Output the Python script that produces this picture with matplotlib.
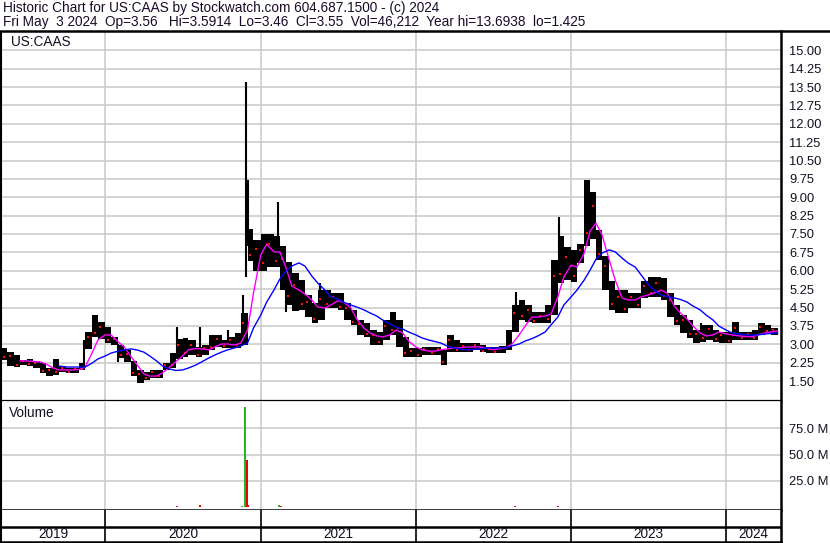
#!/usr/bin/env python
"""
Historic price chart for US:CAAS in the Stockwatch style.
"""

import numpy as np
import pandas as pd
import matplotlib
matplotlib.use("Agg")
import matplotlib.pyplot as plt
from matplotlib.lines import Line2D

# half-month bars, May 2019 - Apr 2024 (high / low)
bar_high = [2.85, 2.70, 2.56, 2.36, 2.40, 2.30, 2.23, 2.03, 2.40, 2.10,
            2.03, 2.03, 2.23, 3.50, 4.19, 3.90, 3.70, 3.30, 2.97, 2.77,
            2.30, 1.95, 1.87, 1.95, 1.95, 2.23, 2.64, 3.20, 3.25, 3.17,
            2.89, 2.97, 3.38, 3.38, 3.17, 3.30, 3.46, 4.27, 7.70, 7.25,
            7.50, 7.50, 7.40, 7.00, 6.35, 5.90, 5.62, 5.00, 4.68, 5.20,
            5.20, 5.10, 5.10, 4.70, 4.40, 4.00, 3.87, 3.58, 3.50, 4.00,
            4.30, 4.00, 3.30, 2.85, 2.85, 2.89, 2.89, 2.89, 2.77, 3.38,
            3.17, 3.05, 3.05, 3.05, 2.97, 2.89, 2.89, 2.93, 3.58, 4.60,
            4.80, 4.60, 4.30, 4.30, 4.60, 6.44, 7.40, 6.97, 6.85, 7.10,
            9.70, 9.20, 7.66, 6.60, 5.60, 5.20, 5.20, 5.10, 5.10, 5.60,
            5.74, 5.74, 5.70, 5.10, 4.60, 4.20, 4.00, 3.58, 3.80, 3.80,
            3.58, 3.50, 3.50, 3.90, 3.50, 3.50, 3.58, 3.87, 3.80, 3.66]
bar_low = [2.37, 2.10, 2.07, 2.15, 2.12, 2.05, 1.83, 1.70, 1.75, 1.87,
           1.83, 1.83, 1.95, 2.80, 3.30, 3.20, 3.05, 2.97, 2.44, 2.27,
           1.70, 1.42, 1.54, 1.62, 1.62, 1.95, 2.03, 2.40, 2.48, 2.56,
           2.48, 2.56, 2.77, 2.89, 2.85, 2.85, 2.85, 2.95, 6.40, 6.00,
           6.00, 6.15, 6.15, 5.20, 4.60, 4.35, 4.40, 4.10, 3.87, 4.00,
           4.50, 4.50, 4.40, 4.00, 3.80, 3.38, 3.30, 2.97, 2.97, 3.17,
           3.38, 2.89, 2.48, 2.48, 2.48, 2.56, 2.56, 2.56, 2.15, 2.68,
           2.68, 2.68, 2.68, 2.77, 2.68, 2.64, 2.64, 2.64, 2.77, 3.50,
           4.00, 3.90, 3.87, 3.87, 3.87, 4.20, 5.50, 5.62, 5.54, 6.30,
           7.00, 7.30, 6.44, 5.20, 4.40, 4.27, 4.27, 4.50, 4.50, 4.90,
           4.93, 4.93, 4.80, 4.10, 3.80, 3.46, 3.25, 3.05, 3.10, 3.17,
           3.10, 3.05, 3.05, 3.17, 3.17, 3.17, 3.17, 3.38, 3.46, 3.38]

# single-day spikes
wick_dates = ["2019-11-13", "2020-01-31", "2020-06-19", "2020-08-12",
              "2020-10-15", "2020-11-21", "2020-11-27", "2020-12-01",
              "2021-02-11", "2021-03-02", "2021-05-21", "2022-08-24",
              "2022-12-04", "2023-11-03"]
wick_low = [1.95, 2.27, 2.60, 2.60, 2.90, 3.00, 5.74, 7.00, 6.50, 4.30, 4.20, 3.80, 6.00, 3.20]
wick_high = [3.17, 3.00, 3.70, 3.70, 3.58, 5.00, 13.69, 9.70, 8.80, 6.00, 5.50, 5.13, 8.20, 3.87]

nan = np.nan
# moving averages sampled every half month (magenta = short, blue = long)
ma_short = [nan, nan, nan, 2.32, 2.32, 2.30, 2.28, 2.19, 2.03, 1.95,
            1.95, 1.95, 1.97, 2.07, 2.64, 3.17, 3.38, 3.38, 3.09, 2.89,
            2.52, 2.19, 1.79, 1.70, 1.70, 1.83, 2.07, 2.28, 2.52, 2.77,
            2.83, 2.81, 2.77, 2.89, 3.01, 3.01, 2.97, 3.05, 3.58, 5.09,
            6.64, 7.09, 6.77, 6.77, 6.15, 5.38, 5.21, 5.05, 4.81, 4.52,
            4.48, 4.60, 4.77, 4.72, 4.48, 4.03, 3.66, 3.46, 3.34, 3.30,
            3.38, 3.58, 3.46, 3.13, 2.89, 2.77, 2.72, 2.72, 2.77, 2.81,
            2.85, 2.85, 2.89, 2.89, 2.89, 2.85, 2.77, 2.81, 2.85, 3.01,
            3.38, 3.74, 4.11, 4.11, 4.15, 4.23, 4.93, 5.74, 6.23, 6.15,
            6.72, 7.62, 7.95, 7.46, 6.44, 5.62, 4.89, 4.81, 4.81, 4.93,
            5.01, 5.09, 5.21, 5.09, 4.56, 4.28, 4.03, 3.74, 3.46, 3.34,
            3.38, 3.50, 3.42, 3.38, 3.34, 3.32, 3.30, 3.38, 3.46, 3.50, 3.54]
ma_long = [nan, nan, nan, nan, nan, nan, nan, nan, nan, 2.11,
           2.07, 2.07, 2.07, 2.07, 2.23, 2.40, 2.52, 2.64, 2.72, 2.77,
           2.81, 2.77, 2.68, 2.52, 2.32, 2.11, 1.99, 1.93, 1.95, 2.03,
           2.15, 2.28, 2.44, 2.56, 2.68, 2.77, 2.85, 2.93, 3.05, 3.66,
           4.19, 4.72, 5.21, 5.66, 5.99, 6.19, 6.32, 6.19, 5.79, 5.50,
           5.21, 4.93, 4.85, 4.72, 4.60, 4.52, 4.40, 4.28, 4.15, 3.99,
           3.83, 3.70, 3.62, 3.50, 3.38, 3.26, 3.17, 3.11, 3.05, 2.93,
           2.85, 2.81, 2.77, 2.79, 2.81, 2.85, 2.85, 2.85, 2.85, 2.93,
           3.01, 3.13, 3.23, 3.34, 3.50, 3.79, 4.11, 4.60, 4.93, 5.21,
           5.62, 6.03, 6.48, 6.72, 6.85, 6.77, 6.52, 6.32, 6.15, 5.83,
           5.46, 5.21, 5.01, 4.95, 4.89, 4.83, 4.72, 4.56, 4.40, 4.19,
           3.99, 3.74, 3.58, 3.46, 3.42, 3.38, 3.38, 3.38, 3.42, 3.44, 3.46]

# visible volume bars (millions), up day = green
vol_dates = ["2020-06-17", "2020-08-11", "2020-11-17", "2020-11-25", "2020-11-30",
             "2020-12-02", "2021-02-12", "2021-02-17", "2022-08-22", "2022-12-02"]
vol_values = [1.0, 2.0, 1.0, 95.0, 45.0, 2.0, 1.5, 0.6, 0.6, 0.6]
vol_up = [False, False, True, True, False, False, True, False, False, False]

price_ticks = [1.50, 2.25, 3.00, 3.75, 4.50, 5.25, 6.00, 6.75, 7.50, 8.25,
               9.00, 9.75, 10.50, 11.25, 12.00, 12.75, 13.50, 14.25, 15.00]
vol_ticks = [25, 50, 75]
years = ["2019", "2020", "2021", "2022", "2023", "2024"]

title1 = "Historic Chart for US:CAAS by Stockwatch.com 604.687.1500 - (c) 2024"
title2 = ("Fri May  3 2024  Op=3.56   Hi=3.5914  Lo=3.46  Cl=3.55  "
          "Vol=46,212  Year hi=13.6938  lo=1.425")


def main():
    plt.rcParams['font.family'] = ['Liberation Sans', 'DejaVu Sans']
    W, H = 830.0, 543.0
    fx = lambda px: px / W
    fy = lambda py: 1 - py / H

    fig = plt.figure(figsize=(8.3, 5.43), dpi=100)
    fig.patch.set_facecolor('white')

    ma_dates = pd.date_range('2019-05-01', periods=len(ma_short), freq='SMS')
    bar_dates = ma_dates[:len(bar_high)]
    widths = np.diff(ma_dates).astype('timedelta64[h]').astype(float) / 24.0
    hi = np.array(bar_high)
    lo = np.array(bar_low)

    x0 = pd.Timestamp('2019-05-01')
    x1 = pd.Timestamp('2024-05-09')
    year_starts = [pd.Timestamp(y + '-01-01') for y in years[1:]]
    grid_col = '#c8c8c8'
    txt_col = '#111122'

    # price panel
    ax = fig.add_axes([fx(1), fy(399.5), fx(781) - fx(1), fy(31.5) - fy(399.5)])
    ax.set_xlim(x0, x1)
    ax.set_ylim(1.5 - 18.5 / 24.5, 1.5 + (381 - 31.5) / 24.5)
    ax.set_axisbelow(True)
    ax.set_yticks(price_ticks)
    ax.set_yticklabels(['{:.2f}'.format(t) for t in price_ticks])
    ax.yaxis.tick_right()
    ax.tick_params(axis='y', length=0, pad=6, labelsize=9.3, labelcolor=txt_col)
    ax.set_xticks(year_starts)
    ax.tick_params(axis='x', length=0, labelbottom=False)
    ax.grid(True, color=grid_col, lw=1.1)
    for s in ['top', 'right']:
        ax.spines[s].set_visible(False)
    ax.spines['left'].set_linewidth(1.5)
    ax.spines['bottom'].set_linewidth(0.9)

    w = widths[:len(hi)]
    ax.bar(bar_dates, hi - lo, bottom=lo, width=w, align='edge',
           color='black', lw=0, zorder=2)
    ax.vlines(pd.to_datetime(wick_dates), wick_low, wick_high, color='black', lw=1.5, zorder=2)
    idx = np.arange(len(hi))
    marks = np.where(idx % 2 == 0, lo + 0.2 * (hi - lo), hi - 0.3 * (hi - lo))
    ax.plot(bar_dates + pd.Timedelta(days=6), marks, 's', color='#ff1010', ms=2.0, mew=0, zorder=3)
    ax.plot(ma_dates, ma_short, color='#ff00ff', lw=1.0, zorder=4)
    ax.plot(ma_dates, ma_long, color='#0000ff', lw=1.0, zorder=4)
    ax.text(10 / 780.0, 1 - 10.5 / 368.0, 'US:CAAS', transform=ax.transAxes,
            fontsize=9.8, va='center', ha='left', color=txt_col)

    # volume panel
    av = fig.add_axes([fx(1), fy(509.5), fx(781) - fx(1), fy(402) - fy(509.5)])
    av.set_xlim(x0, x1)
    av.set_ylim(-2.4, 100.2)
    av.set_axisbelow(True)
    av.set_yticks(vol_ticks)
    av.set_yticklabels(['{:.1f} M'.format(t) for t in vol_ticks])
    av.yaxis.tick_right()
    av.tick_params(axis='y', length=0, pad=6, labelsize=9.3, labelcolor=txt_col)
    av.set_xticks(year_starts)
    av.tick_params(axis='x', length=0, labelbottom=False)
    av.grid(True, color=grid_col, lw=1.1)
    for s in ['top', 'right']:
        av.spines[s].set_visible(False)
    av.spines['left'].set_linewidth(1.5)
    av.spines['bottom'].set_linewidth(1.8)
    vcol = ['#22b022' if u else '#e00000' for u in vol_up]
    av.vlines(pd.to_datetime(vol_dates), 0, vol_values, colors=vcol, lw=1.4, zorder=2)
    av.text(8 / 780.0, 1 - 11 / 107.5, 'Volume', transform=av.transAxes,
            fontsize=9.8, va='center', ha='left', color=txt_col)

    # date strip
    ad = fig.add_axes([fx(1), fy(541.5), fx(781) - fx(1), fy(509.5) - fy(541.5)])
    ad.set_xlim(x0, x1)
    ad.set_ylim(0, 1)
    ad.set_xticks([])
    ad.set_yticks([])
    for s in ['top', 'right']:
        ad.spines[s].set_visible(False)
    ad.spines['left'].set_linewidth(1.5)
    ad.spines['bottom'].set_linewidth(1.8)
    ad.axhline(0.45, color='black', lw=1.8)
    ad.vlines(year_starts, 0, 1, color='black', lw=1.2)
    edges = [x0] + year_starts + [x1]
    for k, y in enumerate(years):
        mid = edges[k] + (edges[k + 1] - edges[k]) / 2
        ad.text(mid, 0.22, y, ha='center', va='center', fontsize=9.8, color=txt_col)

    # frame lines
    fig.add_artist(Line2D([0, 1], [fy(31), fy(31)], color='black', lw=1.8))
    fig.add_artist(Line2D([fx(781), fx(781)], [fy(31), 0], color='black', lw=1.8))

    fig.text(fx(3), fy(8), title1, fontsize=9.8, va='center', ha='left', color='#1a0a2a')
    fig.text(fx(3), fy(22), title2, fontsize=9.8, va='center', ha='left', color='#1a0a2a')

    fig.savefig('out.png', dpi=100)


if __name__ == '__main__':
    main()
